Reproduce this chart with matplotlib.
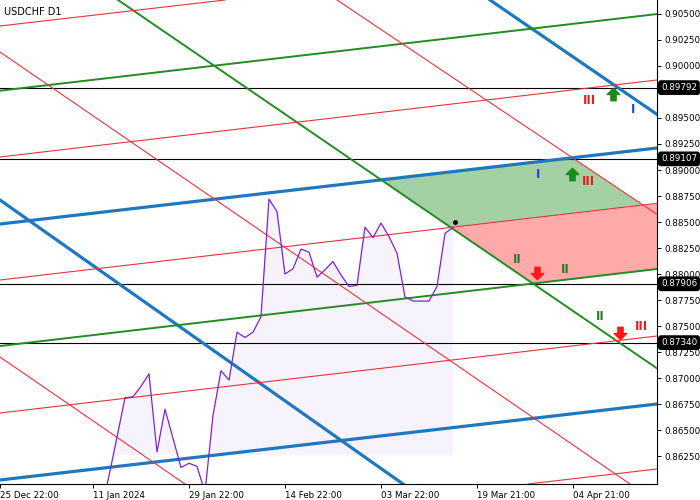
import numpy as np
import matplotlib.pyplot as plt
from matplotlib.path import Path

# daily closes (bar index -> price)
bars = list(range(13, 58))
closes = [0.8570, 0.8606, 0.8643, 0.8681, 0.8682, 0.8692, 0.8704, 0.8629, 0.8670, 0.8642,
          0.8614, 0.8618, 0.8615, 0.8590, 0.8664, 0.8707, 0.8698, 0.8744, 0.8739, 0.8744,
          0.8759, 0.8872, 0.8860, 0.8800, 0.8805, 0.8824, 0.8821, 0.8797, 0.8804, 0.8812,
          0.8799, 0.8788, 0.8789, 0.8845, 0.8835, 0.8849, 0.8836, 0.8820, 0.8778, 0.8774,
          0.8774, 0.8774, 0.8788, 0.8839, 0.8845]
area_base = 0.8626
last_dot = (57.25, 0.8850)

# trend lines, each by two points (bar, price)
blue_upper = ((0.375, 0.884808), (82.5, 0.892115))
blue_lower = ((0.375, 0.860192), (82.5, 0.867500))
blue_fall_right = ((61.625, 0.906346), (82.25, 0.895480))
blue_fall_left = ((0.375, 0.887115), (50.75, 0.859808))

green_top = ((0.375, 0.897625), (67.875, 0.903683))
green_mid = ((0.375, 0.873077), (82.5, 0.880481))
green_fall = ((15.125, 0.906346), (82.25, 0.871058))

red_top = ((0.375, 0.903846), (28.5, 0.906346))
red_upper = ((0.375, 0.891250), (82.5, 0.898654))
red_mid = ((0.375, 0.879423), (80.75, 0.886635))
red_lower = ((0.375, 0.866635), (82.5, 0.874038))
red_bottom = ((66.375, 0.859808), (82.5, 0.861250))
red_fall_right = ((42.5, 0.906346), (80.75, 0.886635))
red_fall_mid = ((0.375, 0.901346), (79.125, 0.859808))
red_fall_left = ((0.375, 0.872019), (23.5, 0.859808))

levels = [0.89792, 0.89107, 0.87906, 0.87340]

# roman numeral labels
label_text = ['III', 'I', 'I', 'III', 'II', 'II', 'II', 'III']
label_x = [74.1, 79.5, 67.6, 73.9, 65.0, 71.0, 75.4, 80.5]
label_y = [0.89673, 0.89577, 0.88952, 0.88885, 0.88144, 0.88048, 0.87587, 0.87500]
label_color = ['#e02020', '#2244cc', '#2244cc', '#e02020', '#2a7a2a', '#2a7a2a', '#2a7a2a', '#e02020']

up_x = [77.0, 71.9]
up_y = [0.89731, 0.88962]
down_x = [67.5, 77.9]
down_y = [0.88005, 0.87433]

x_ticks = [0.375, 12, 24, 36, 48, 60, 72]
x_labels = ['25 Dec 22:00', '11 Jan 2024', '29 Jan 22:00', '14 Feb 22:00',
            '03 Mar 22:00', '19 Mar 21:00', '04 Apr 21:00']
y_ticks = np.arange(0.8625, 0.90501, 0.0025)


def line_at(line, x):
    (x1, y1), (x2, y2) = line
    return y1 + (y2 - y1) * (x - x1) / (x2 - x1)


fig = plt.figure(figsize=(7, 5), dpi=100)
ax = fig.add_axes([0, 16 / 500, 657 / 700, 484 / 500])
ax.set_xlim(0.375, 82.5)
ax.set_ylim(0.859808, 0.906346)

# zones
xs = np.linspace(0.375, 82.5, 2000)
g_lo = np.maximum(line_at(green_fall, xs), line_at(red_mid, xs))
g_hi = np.minimum(line_at(blue_upper, xs), line_at(red_fall_right, xs))
ax.fill_between(xs, g_lo, g_hi, where=g_hi > g_lo, interpolate=True, color='#a3d1a3', lw=0, zorder=1)
r_lo = np.maximum(line_at(green_fall, xs), line_at(green_mid, xs))
r_hi = line_at(red_mid, xs)
ax.fill_between(xs, r_lo, r_hi, where=r_hi > r_lo, interpolate=True, color='#ffaaaa', lw=0, zorder=1)

# price area
cl = np.array(closes)
ax.fill_between(bars, cl, area_base, where=cl > area_base, interpolate=True,
                color='#f7f3fd', lw=0, zorder=1)

for lv in levels:
    ax.axhline(lv, color='black', lw=0.8, zorder=2)

for ln in [blue_upper, blue_lower, blue_fall_right, blue_fall_left]:
    ax.axline(ln[0], ln[1], color='#1f78be', lw=2.3, zorder=3)
for ln in [green_top, green_mid, green_fall]:
    ax.axline(ln[0], ln[1], color='#228b22', lw=1.4, zorder=3)
for ln in [red_top, red_upper, red_mid, red_lower, red_bottom,
           red_fall_right, red_fall_mid, red_fall_left]:
    ax.axline(ln[0], ln[1], color='#e8323c', lw=0.8, zorder=3)

ax.plot(bars, closes, color='#8020d0', lw=0.9, zorder=4)
ax.plot(*last_dot, 'o', color='black', ms=2.5, zorder=5)

# arrows
up_arrow = Path([(0, 1), (1, 0), (0.42, 0), (0.42, -1), (-0.42, -1), (-0.42, 0), (-1, 0), (0, 1)],
                [Path.MOVETO] + [Path.LINETO] * 6 + [Path.CLOSEPOLY])
down_arrow = Path([(0, -1), (1, 0), (0.42, 0), (0.42, 1), (-0.42, 1), (-0.42, 0), (-1, 0), (0, -1)],
                  [Path.MOVETO] + [Path.LINETO] * 6 + [Path.CLOSEPOLY])
ax.plot(up_x, up_y, ls='none', marker=up_arrow, ms=9, color='#1a8a1a', zorder=6)
ax.plot(down_x, down_y, ls='none', marker=down_arrow, ms=9, color='#ff1a1a', zorder=6)

for t, x, y, c in zip(label_text, label_x, label_y, label_color):
    ax.text(x, y, t, color=c, fontsize=8.5, fontweight='bold', ha='center', va='center', zorder=6)

ax.text(0.006, 0.985, 'USDCHF D1', transform=ax.transAxes, fontsize=7, va='top', ha='left')

# axes styling
for s in ['top', 'left']:
    ax.spines[s].set_visible(False)
ax.spines['right'].set_linewidth(0.8)
ax.spines['bottom'].set_linewidth(0.8)
ax.yaxis.tick_right()
ax.set_yticks(y_ticks)
ax.set_yticklabels(['%.5f' % v for v in y_ticks])
ax.set_xticks(x_ticks)
ax.set_xticklabels(x_labels, ha='left')
ax.tick_params(axis='both', labelsize=6.3, length=3, width=0.7, pad=2)

for lv in levels:
    ax.text(1.006, lv, '%.5f' % lv, transform=ax.get_yaxis_transform(), color='white',
            fontsize=6.3, va='center', ha='left', zorder=10, clip_on=False,
            bbox=dict(boxstyle='round,pad=0.25', fc='black', ec='black'))

fig.savefig('out.png', dpi=100)
